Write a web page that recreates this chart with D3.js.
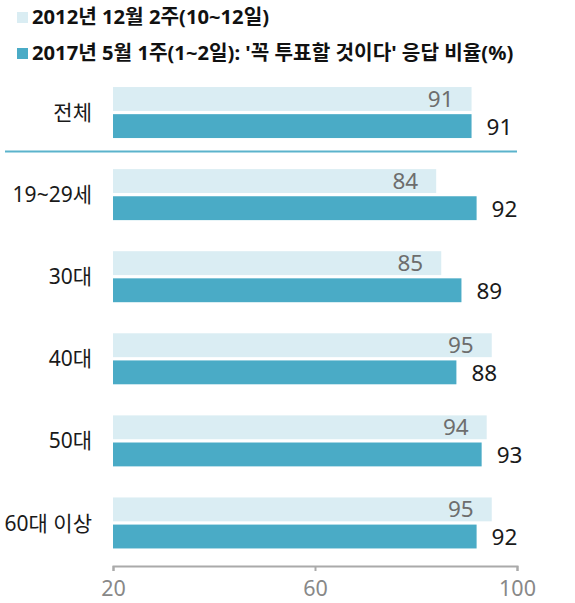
<!DOCTYPE html>
<html>
<head>
<meta charset="utf-8">
<script src="https://cdn.jsdelivr.net/npm/d3@7"></script>
<style>
  body { margin: 0; background: #fff; }
  svg { display: block; font-family: "Noto Sans", "Noto Sans CJK KR", sans-serif; }
</style>
</head>
<body>
<script>
const categories = ['전체', '19~29세', '30대', '40대', '50대', '60대 이상'];
const seriesNames = ['2012년 12월 2주(10~12일)', "2017년 5월 1주(1~2일): '꼭 투표할 것이다' 응답 비율(%)"];
const values2012 = [91, 84, 85, 95, 94, 95];
const values2017 = [91, 92, 89, 88, 93, 92];
const tickValues = [20, 60, 100];

const width = 575, height = 603;
const colors = ['#daedf3', '#4aabc6'];
const font = '"Noto Sans", "Noto Sans CJK KR", sans-serif';

const svg = d3.select('body').append('svg')
    .attr('width', width)
    .attr('height', height);

// 범례
const legend = svg.append('g');
seriesNames.forEach((name, i) => {
    const row = legend.append('g').attr('transform', `translate(0, ${17 + i * 36})`);
    row.append('rect')
        .attr('x', 17).attr('y', -5)
        .attr('width', 11).attr('height', 11)
        .attr('fill', colors[i]);
    row.append('text')
        .attr('x', 32).attr('dy', '0.36em')
        .attr('font-size', 20.2)
        .attr('font-weight', 'bold')
        .attr('fill', '#111')
        .text(name);
});

const x = d3.scaleLinear().domain([20, 100]).range([113, 517]);
const y = d3.scaleBand().domain(categories).range([71.5, 564]);
const yInner = d3.scaleBand().domain([0, 1]).range([0, 51]).paddingInner(0.12);

const rows = categories.map((c, i) => ({ cat: c, vals: [values2012[i], values2017[i]] }));

const group = svg.append('g').selectAll('g')
    .data(rows)
    .enter().append('g')
    .attr('transform', d => `translate(0, ${y(d.cat) + y.bandwidth() / 2 - 25.5})`);

group.selectAll('rect')
    .data(d => d.vals)
    .enter().append('rect')
    .attr('x', x(20))
    .attr('y', (v, i) => yInner(i))
    .attr('width', v => x(v) - x(20))
    .attr('height', yInner.bandwidth())
    .attr('fill', (v, i) => colors[i]);

// 2012 값: 막대 안쪽
group.append('text')
    .attr('x', d => x(d.vals[0]) - 18)
    .attr('y', yInner(0) + yInner.bandwidth() / 2 - 0.5)
    .attr('dy', '0.36em')
    .attr('text-anchor', 'end')
    .attr('font-size', 22.5)
    .attr('fill', '#6d6d6d')
    .text(d => d.vals[0]);

// 2017 값: 막대 바깥
group.append('text')
    .attr('x', d => x(d.vals[1]) + 15)
    .attr('y', yInner(1) + yInner.bandwidth() / 2 + 0.5)
    .attr('dy', '0.36em')
    .attr('font-size', 22.5)
    .attr('fill', '#1a1a1a')
    .text(d => d.vals[1]);

group.append('text')
    .attr('x', 92)
    .attr('y', 25.5)
    .attr('dy', '0.36em')
    .attr('text-anchor', 'end')
    .attr('font-size', 21)
    .attr('fill', '#1a1a1a')
    .text(d => d.cat);

// 전체 구분선
svg.append('line')
    .attr('x1', 5).attr('x2', x(100))
    .attr('y1', y(categories[1]) - 2).attr('y2', y(categories[1]) - 2)
    .attr('stroke', '#5bb3cc')
    .attr('stroke-width', 2);

const axis = svg.append('g')
    .attr('transform', `translate(0, 566)`)
    .call(d3.axisBottom(x).tickValues(tickValues).tickSize(5).tickPadding(10));
axis.selectAll('path, line').attr('stroke', '#aaa').attr('stroke-width', 2);
axis.selectAll('text')
    .attr('font-size', 21.5)
    .attr('fill', '#888')
    .attr('font-family', font);
</script>
</body>
</html>
